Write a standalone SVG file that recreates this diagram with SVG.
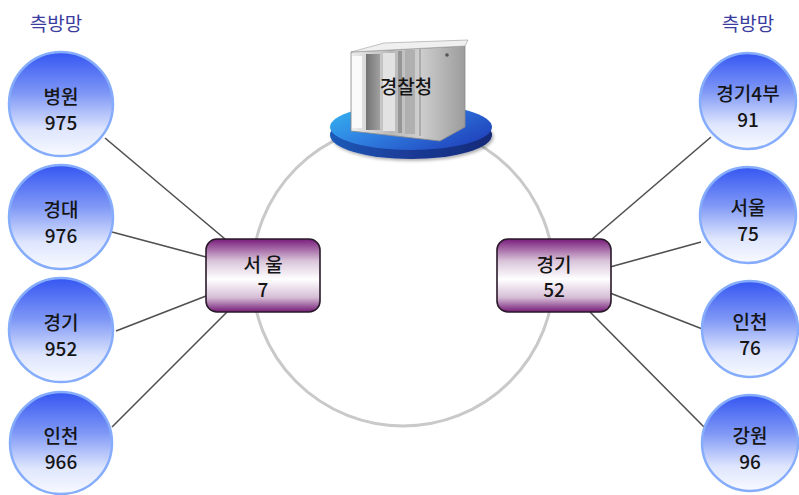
<svg xmlns="http://www.w3.org/2000/svg" width="799" height="495" viewBox="0 0 799 495">
  <style>
    .title { font-family: "Noto Sans CJK KR", "Liberation Sans", sans-serif; font-size: 19px; fill: #3a3ca0; text-anchor: middle; }
    .lbl { font-family: "Noto Sans CJK KR", "Liberation Sans", sans-serif; font-size: 19px; font-weight: 500; fill: #151515; text-anchor: middle; }
    .site { fill: url(#siteGrad); stroke: #86adfb; stroke-width: 2.5; }
    .hub { fill: url(#hubGrad); stroke: #2a1a2a; stroke-width: 1.6; }
    .link { stroke: #505050; stroke-width: 1.6; fill: none; }
  </style>
  <defs>
    <linearGradient id="siteGrad" x1="0" y1="0" x2="0" y2="1">
      <stop offset="0" stop-color="#3556f2"/>
      <stop offset="0.4" stop-color="#7f98f6"/>
      <stop offset="0.75" stop-color="#dfe6fd"/>
      <stop offset="1" stop-color="#f8faff"/>
    </linearGradient>
    <linearGradient id="hubGrad" x1="0" y1="0" x2="0" y2="1">
      <stop offset="0" stop-color="#7a1d7c"/>
      <stop offset="0.3" stop-color="#d9c4d9"/>
      <stop offset="0.55" stop-color="#ffffff"/>
      <stop offset="0.8" stop-color="#d6bed6"/>
      <stop offset="1" stop-color="#741a76"/>
    </linearGradient>
    <linearGradient id="padTop" x1="0" y1="0" x2="1" y2="0.6">
      <stop offset="0" stop-color="#35b8f2"/>
      <stop offset="0.5" stop-color="#2f7ee0"/>
      <stop offset="1" stop-color="#2248c0"/>
    </linearGradient>
    <linearGradient id="padSide" x1="0" y1="0" x2="1" y2="0">
      <stop offset="0" stop-color="#1c5ab8"/>
      <stop offset="0.5" stop-color="#1a3a96"/>
      <stop offset="1" stop-color="#122a78"/>
    </linearGradient>
    <linearGradient id="rackGrad" x1="0" y1="0" x2="1" y2="0">
      <stop offset="0" stop-color="#eeeeee"/>
      <stop offset="0.35" stop-color="#b8b8b8"/>
      <stop offset="0.6" stop-color="#cfcfcf"/>
      <stop offset="1" stop-color="#9c9c9c"/>
    </linearGradient>
    <linearGradient id="stripGrad" x1="0" y1="0" x2="1" y2="0">
      <stop offset="0" stop-color="#747474"/>
      <stop offset="1" stop-color="#a0a0a0"/>
    </linearGradient>
    <filter id="shadow" x="-20%" y="-20%" width="140%" height="140%">
      <feDropShadow dx="1.5" dy="2" stdDeviation="1.5" flood-color="#000" flood-opacity="0.3"/>
    </filter>
  </defs>

  <rect width="799" height="495" fill="#ffffff"/>

  <!-- ring backbone -->
  <circle cx="403" cy="275" r="151" fill="none" stroke="#c9c9c9" stroke-width="3"/>

  <!-- connectors -->
  <g id="connectors">
    <line class="link" x1="105" y1="138" x2="225" y2="239"/>
    <line class="link" x1="112" y1="232" x2="206" y2="257"/>
    <line class="link" x1="116" y1="331" x2="206" y2="296"/>
    <line class="link" x1="112" y1="427" x2="227" y2="312"/>
    <line class="link" x1="592" y1="239" x2="711" y2="137"/>
    <line class="link" x1="610" y1="267" x2="701" y2="242"/>
    <line class="link" x1="610" y1="293" x2="705" y2="330"/>
    <line class="link" x1="590" y1="312" x2="704" y2="427"/>
  </g>

  <text class="title" x="56" y="31">측방망</text>
  <text class="title" x="748" y="31">측방망</text>

  <!-- central server on its platform -->
  <g id="police-hq">
    <ellipse cx="411" cy="135" rx="81" ry="24" fill="url(#padSide)" filter="url(#shadow)"/>
    <ellipse cx="411" cy="127" rx="81" ry="23" fill="url(#padTop)"/>
    <polygon points="351,52 465,46 465,127 440,141 351,131" fill="url(#rackGrad)" stroke="#8a8a8a" stroke-width="0.8"/>
    <polygon points="351,52 384,43 468,40 465,46" fill="#f0f0f0" stroke="#9a9a9a" stroke-width="0.6"/>
    <rect x="352" y="56" width="10" height="72" fill="#fafafa"/>
    <rect x="366" y="54" width="14" height="76" fill="url(#stripGrad)"/>
    <rect x="383" y="53" width="12" height="78" fill="#e2e2e2"/>
    <rect x="398" y="51" width="4" height="82" fill="#969696"/>
    <rect x="405" y="50" width="10" height="84" fill="#b0b0b0"/>
    <line x1="420" y1="49" x2="420" y2="136" stroke="#8a8a8a" stroke-width="1"/>
    <circle cx="447" cy="55" r="1.8" fill="#555"/>
    <text class="lbl" x="406" y="94" font-size="16" font-weight="700">경찰청</text>
  </g>

  <!-- regional hubs -->
  <g id="hub-seoul">
    <rect class="hub" x="206" y="239" width="114" height="73" rx="11"/>
    <text class="lbl" x="263" y="272">서 울</text>
    <text class="lbl" x="263" y="297">7</text>
  </g>
  <g id="hub-gyeonggi">
    <rect class="hub" x="497" y="239" width="114" height="73" rx="11"/>
    <text class="lbl" x="554" y="272">경기</text>
    <text class="lbl" x="554" y="297">52</text>
  </g>

  <!-- left sites -->
  <g id="site-hospital">
    <circle class="site" cx="61" cy="104" r="52"/>
    <text class="lbl" x="61" y="104">병원</text>
    <text class="lbl" x="61" y="130">975</text>
  </g>
  <g id="site-gyeongdae">
    <circle class="site" cx="61" cy="217" r="52"/>
    <text class="lbl" x="61" y="217">경대</text>
    <text class="lbl" x="61" y="243">976</text>
  </g>
  <g id="site-gyeonggi-952">
    <circle class="site" cx="61" cy="330" r="52"/>
    <text class="lbl" x="61" y="330">경기</text>
    <text class="lbl" x="61" y="356">952</text>
  </g>
  <g id="site-incheon-966">
    <circle class="site" cx="61" cy="443" r="51"/>
    <text class="lbl" x="61" y="443">인천</text>
    <text class="lbl" x="61" y="469">966</text>
  </g>

  <!-- right sites -->
  <g id="site-gyeonggi4">
    <circle class="site" cx="748" cy="101" r="48"/>
    <text class="lbl" x="748" y="101">경기4부</text>
    <text class="lbl" x="748" y="127">91</text>
  </g>
  <g id="site-seoul-75">
    <circle class="site" cx="748" cy="215" r="48"/>
    <text class="lbl" x="748" y="215">서울</text>
    <text class="lbl" x="748" y="241">75</text>
  </g>
  <g id="site-incheon-76">
    <circle class="site" cx="750" cy="329" r="48"/>
    <text class="lbl" x="750" y="329">인천</text>
    <text class="lbl" x="750" y="355">76</text>
  </g>
  <g id="site-gangwon">
    <circle class="site" cx="750" cy="443" r="48"/>
    <text class="lbl" x="750" y="443">강원</text>
    <text class="lbl" x="750" y="469">96</text>
  </g>
</svg>
